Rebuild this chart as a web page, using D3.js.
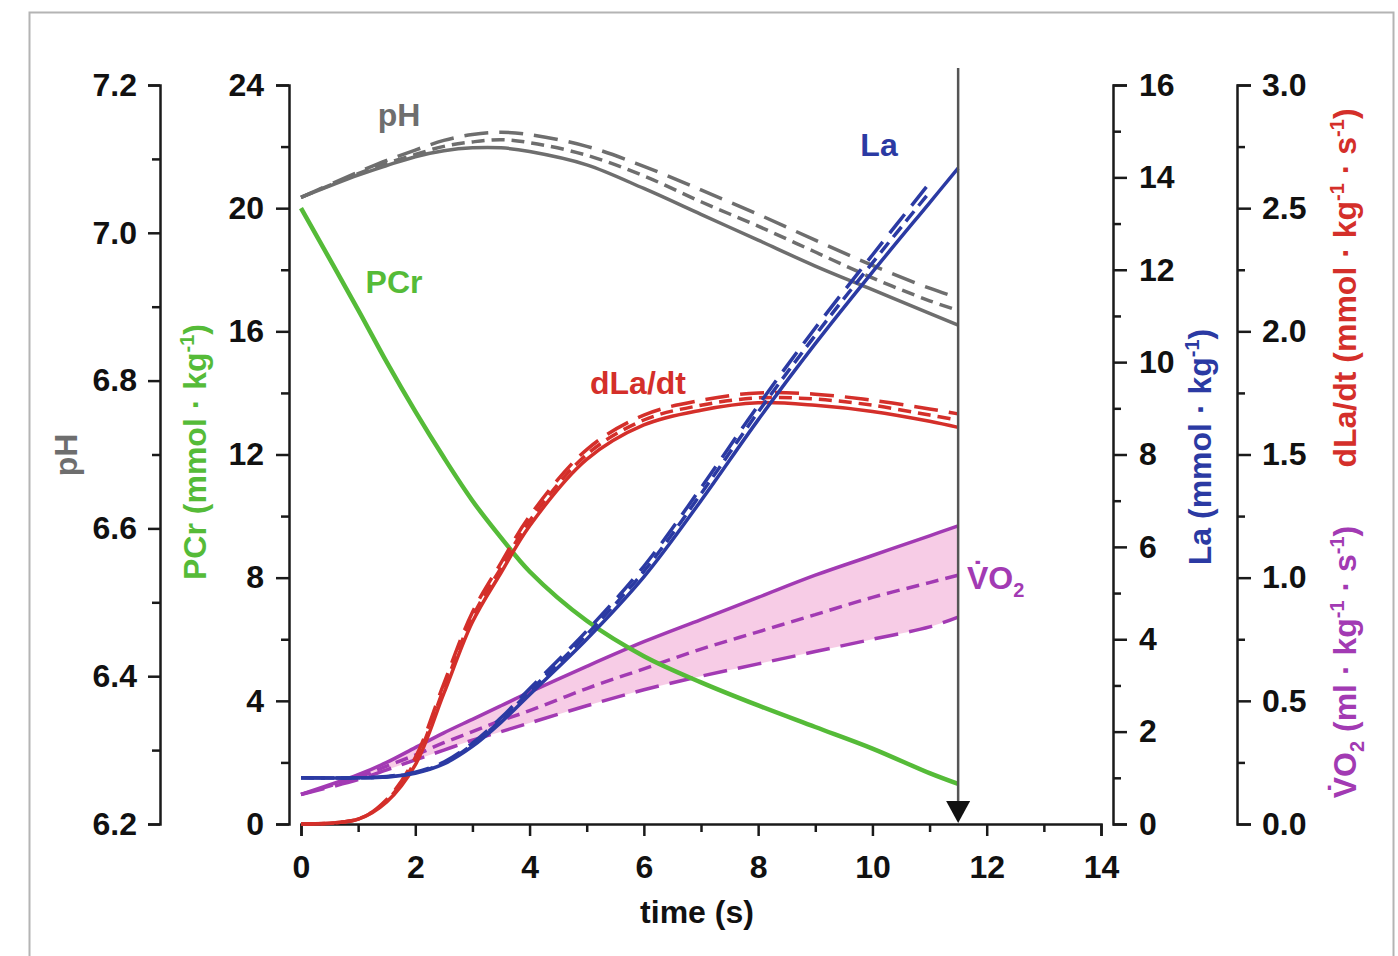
<!DOCTYPE html>
<meta charset="utf-8">

<style type="text/css">
	body {
		margin: 0;
		background: #fff;
	}
	svg {
		font-family: "Liberation Sans", Arial, sans-serif;
		font-weight: bold;
	}
	.axis path, .axis line {
		stroke: #1a1a1a;
		stroke-width: 2.5px;
	}
	.axis text {
		font-size: 32px;
		font-weight: bold;
		fill: #111;
	}
	.curve {
		fill: none;
		stroke-width: 3.5px;
		stroke-linejoin: round;
	}
	.label {
		font-size: 32px;
	}
</style>

<body>
</body>

<script src="https://d3js.org/d3.v7.min.js"></script>

<script>

	// time points (s)
	var time = [0, 1, 1.5, 2, 2.5, 3, 3.5, 4, 5, 6, 7, 8, 9, 10, 11, 11.5];

	// pH
	var phSolid = [7.048, 7.078, 7.091, 7.103, 7.111, 7.115, 7.115, 7.110, 7.092, 7.060, 7.025, 6.990, 6.955, 6.923, 6.891, 6.875];
	var phShort = [7.048, 7.080, 7.094, 7.106, 7.117, 7.123, 7.126, 7.122, 7.105, 7.077, 7.042, 7.009, 6.974, 6.939, 6.908, 6.895];
	var phLong  = [7.048, 7.082, 7.098, 7.112, 7.125, 7.133, 7.136, 7.133, 7.117, 7.090, 7.058, 7.025, 6.990, 6.956, 6.925, 6.912];

	// PCr (mmol/kg)
	var pcrSolid = [20, 16.7, 15.0, 13.4, 11.9, 10.5, 9.3, 8.2, 6.6, 5.45, 4.6, 3.85, 3.15, 2.45, 1.65, 1.3];

	// La (mmol/kg)
	var laSolid = [1.0, 1.0, 1.02, 1.1, 1.3, 1.68, 2.2, 2.8, 4.0, 5.35, 7.0, 8.75, 10.4, 11.95, 13.45, 14.2];
	var laShort = [1.0, 1.0, 1.02, 1.11, 1.32, 1.72, 2.25, 2.87, 4.1, 5.47, 7.15, 8.92, 10.58, 12.15, 13.68, null];
	var laLong  = [1.0, 1.0, 1.03, 1.12, 1.34, 1.75, 2.3, 2.93, 4.18, 5.58, 7.28, 9.06, 10.74, 12.32, 13.88, null];

	// dLa/dt (mmol/kg/s)
	var rateSolid = [0, 0.02, 0.09, 0.24, 0.53, 0.82, 1.02, 1.21, 1.48, 1.62, 1.68, 1.71, 1.70, 1.675, 1.635, 1.61];
	var rateShort = [0, 0.02, 0.095, 0.255, 0.55, 0.84, 1.04, 1.23, 1.50, 1.64, 1.70, 1.73, 1.725, 1.70, 1.66, 1.64];
	var rateLong  = [0, 0.02, 0.10, 0.27, 0.57, 0.86, 1.06, 1.25, 1.52, 1.66, 1.72, 1.75, 1.745, 1.72, 1.685, 1.665];

	// VO2 (ml/kg/s)
	var vo2Solid = [0.12, 0.20, 0.25, 0.31, 0.37, 0.425, 0.48, 0.535, 0.64, 0.74, 0.83, 0.92, 1.01, 1.09, 1.17, 1.21];
	var vo2Short = [0.12, 0.19, 0.235, 0.28, 0.33, 0.375, 0.42, 0.46, 0.55, 0.63, 0.71, 0.78, 0.85, 0.92, 0.98, 1.01];
	var vo2Long  = [0.12, 0.18, 0.22, 0.26, 0.30, 0.34, 0.375, 0.41, 0.48, 0.545, 0.60, 0.65, 0.70, 0.75, 0.80, 0.84];

	// end of exercise marker
	var endTime = 11.5;

	var phTicks = [6.2, 6.4, 6.6, 6.8, 7.0, 7.2];
	var phMinor = [6.3, 6.5, 6.7, 6.9, 7.1];
	var pcrTicks = [0, 4, 8, 12, 16, 20, 24];
	var pcrMinor = [2, 6, 10, 14, 18, 22];
	var laTicks = [0, 2, 4, 6, 8, 10, 12, 14, 16];
	var laMinor = [1, 3, 5, 7, 9, 11, 13, 15];
	var rateTicks = [0, 0.5, 1.0, 1.5, 2.0, 2.5, 3.0];
	var rateMinor = [0.25, 0.75, 1.25, 1.75, 2.25, 2.75];
	var timeTicks = [0, 2, 4, 6, 8, 10, 12, 14];
	var timeMinor = [1, 3, 5, 7, 9, 11, 13];

	var colors = {ph: "#6e6e6e", pcr: "#55bb38", la: "#2b3aa3", rate: "#d42f2a", vo2: "#a23ab3", fill: "#f6c3e2"};

	var plotTop = 85, plotBottom = 824;

	var svg = d3.select("body").append("svg")
		.attr("width", 1398)
		.attr("height", 956);

	// frame
	svg.append("rect")
		.attr("x", 29.5)
		.attr("y", 12.5)
		.attr("width", 1364)
		.attr("height", 1000)
		.style("fill", "none")
		.style("stroke", "#b4b4b4")
		.style("stroke-width", 2);

	var xScale = d3.scaleLinear().domain([0, 14]).range([301, 1101]);
	var yPh = d3.scaleLinear().domain([6.2, 7.2]).range([plotBottom, plotTop]);
	var yPcr = d3.scaleLinear().domain([0, 24]).range([plotBottom, plotTop]);
	var yLa = d3.scaleLinear().domain([0, 16]).range([plotBottom, plotTop]);
	var yRate = d3.scaleLinear().domain([0, 3]).range([plotBottom, plotTop]);

	function drawAxis(axis, minorAxis, tx, ty) {
		var g = svg.append("g")
			.attr("class", "axis")
			.attr("transform", "translate(" + tx + "," + ty + ")")
			.call(axis);
		var m = svg.append("g")
			.attr("class", "axis")
			.attr("transform", "translate(" + tx + "," + ty + ")")
			.call(minorAxis);
		m.select(".domain").remove();
		m.selectAll("text").remove();
		return g;
	}

	drawAxis(d3.axisLeft(yPh).tickValues(phTicks).tickFormat(d3.format(".1f")).tickSize(12).tickPadding(11),
		d3.axisLeft(yPh).tickValues(phMinor).tickSize(8), 160, 0);
	drawAxis(d3.axisLeft(yPcr).tickValues(pcrTicks).tickSize(13).tickPadding(12),
		d3.axisLeft(yPcr).tickValues(pcrMinor).tickSize(8), 289, 0);
	drawAxis(d3.axisRight(yLa).tickValues(laTicks).tickSize(14).tickPadding(12),
		d3.axisRight(yLa).tickValues(laMinor).tickSize(8), 1113, 0);
	drawAxis(d3.axisRight(yRate).tickValues(rateTicks).tickFormat(d3.format(".1f")).tickSize(14).tickPadding(11),
		d3.axisRight(yRate).tickValues(rateMinor).tickSize(8), 1237, 0);
	drawAxis(d3.axisBottom(xScale).tickValues(timeTicks).tickSize(12).tickPadding(19),
		d3.axisBottom(xScale).tickValues(timeMinor).tickSize(8), 0, plotBottom);

	// axis titles
	function vTitle(x, y, color, parts) {
		var t = svg.append("text")
			.attr("class", "label")
			.attr("transform", "translate(" + x + "," + y + ") rotate(-90)")
			.attr("text-anchor", "middle")
			.style("fill", color);
		parts.forEach(function(p) {
			var s = t.append("tspan").text(p[0]);
			if (p[1] == "sup") s.attr("dy", -12).style("font-size", "20px");
			if (p[1] == "sub") s.attr("dy", 8).style("font-size", "20px");
			if (p[1] == "back") s.attr("dy", 12);
			if (p[1] == "up") s.attr("dy", -8);
		});
		return t;
	}

	vTitle(77, 455, colors.ph, [["pH"]]);
	vTitle(206, 452, colors.pcr, [["PCr (mmol · kg"], ["-1", "sup"], [")", "back"]]);
	vTitle(1211, 447, colors.la, [["La (mmol · kg"], ["-1", "sup"], [")", "back"]]);
	vTitle(1356, 288, colors.rate, [["dLa/dt (mmol · kg"], ["-1", "sup"], [" · s", "back"], ["-1", "sup"], [")", "back"]]);
	vTitle(1356, 662, colors.vo2, [["V\u0307O"], ["2", "sub"], [" (ml · kg", "up"], ["-1", "sup"], [" · s", "back"], ["-1", "sup"], [")", "back"]]);

	svg.append("text")
		.attr("class", "label")
		.attr("x", 697)
		.attr("y", 923)
		.attr("text-anchor", "middle")
		.style("fill", "#111")
		.text("time (s)");

	// VO2 band between solid and long-dash
	var rows = time.map(function(t, i) { return {t: t, lo: vo2Long[i], hi: vo2Solid[i]}; });
	var band = d3.area()
		.curve(d3.curveCatmullRom)
		.x(function(d) { return xScale(d.t); })
		.y0(function(d) { return yRate(d.lo); })
		.y1(function(d) { return yRate(d.hi); });

	svg.append("path")
		.datum(rows)
		.attr("d", band)
		.style("fill", colors.fill)
		.style("opacity", 0.85);

	function drawCurve(values, scale, color, dash, width) {
		var line = d3.line()
			.defined(function(d) { return d != null; })
			.curve(d3.curveCatmullRom)
			.x(function(d, i) { return xScale(time[i]); })
			.y(function(d) { return scale(d); });
		svg.append("path")
			.datum(values)
			.attr("class", "curve")
			.attr("d", line)
			.style("stroke", color)
			.style("stroke-width", width || null)
			.style("stroke-dasharray", dash || null);
	}

	var longDash = "24,11";
	var shortDash = "13,7";

	drawCurve(vo2Long, yRate, colors.vo2, longDash);
	drawCurve(vo2Short, yRate, colors.vo2, shortDash);
	drawCurve(vo2Solid, yRate, colors.vo2);

	drawCurve(phLong, yPh, colors.ph, longDash);
	drawCurve(phShort, yPh, colors.ph, shortDash);
	drawCurve(phSolid, yPh, colors.ph);

	drawCurve(pcrSolid, yPcr, colors.pcr, null, 4.5);

	drawCurve(rateLong, yRate, colors.rate, longDash);
	drawCurve(rateShort, yRate, colors.rate, shortDash);
	drawCurve(rateSolid, yRate, colors.rate);

	drawCurve(laLong, yLa, colors.la, longDash);
	drawCurve(laShort, yLa, colors.la, shortDash);
	drawCurve(laSolid, yLa, colors.la);

	// end-of-exercise line with arrow
	var xe = xScale(endTime);
	svg.append("line")
		.attr("x1", xe).attr("x2", xe)
		.attr("y1", 68).attr("y2", 805)
		.style("stroke", "#555")
		.style("stroke-width", 2.5);
	svg.append("path")
		.attr("d", "M" + (xe - 12) + "," + 801 + "L" + (xe + 12) + "," + 801 + "L" + xe + "," + 823 + "Z")
		.style("fill", "#111");

	// series labels
	var labels = [
		{text: "pH", x: 399, y: 126, color: colors.ph},
		{text: "PCr", x: 394, y: 293, color: colors.pcr},
		{text: "La", x: 879, y: 156, color: colors.la},
		{text: "dLa/dt", x: 638, y: 394, color: colors.rate}
	];
	svg.selectAll(".series-label")
		.data(labels)
		.enter()
		.append("text")
		.attr("class", "label series-label")
		.attr("x", function(d) { return d.x; })
		.attr("y", function(d) { return d.y; })
		.attr("text-anchor", "middle")
		.style("fill", function(d) { return d.color; })
		.text(function(d) { return d.text; });

	var vo = svg.append("text")
		.attr("class", "label")
		.attr("x", 967)
		.attr("y", 589)
		.style("fill", colors.vo2);
	vo.append("tspan").text("V\u0307O");
	vo.append("tspan").attr("dy", 8).style("font-size", "20px").text("2");

</script>
